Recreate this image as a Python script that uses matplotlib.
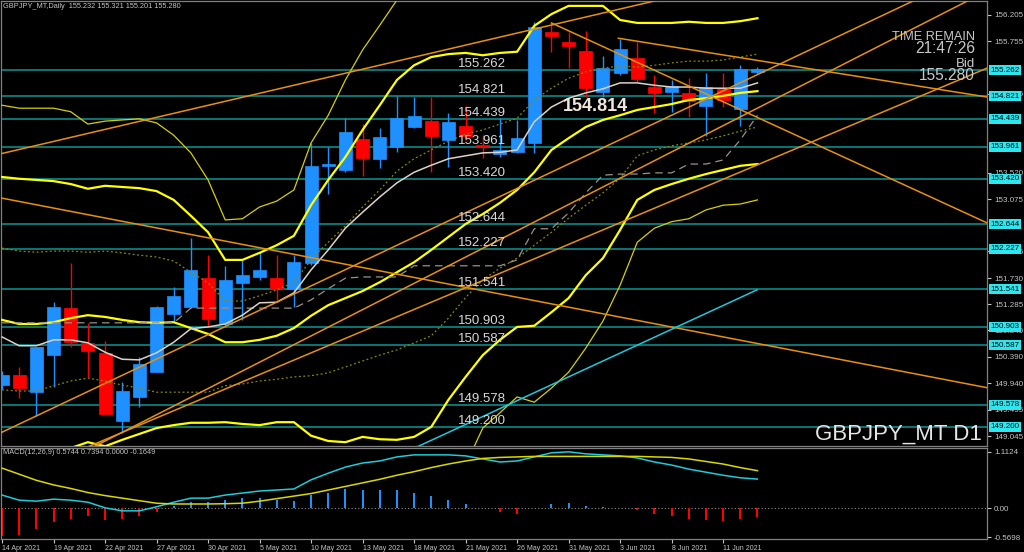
import matplotlib
matplotlib.use('Agg')
import matplotlib.pyplot as plt
from matplotlib.transforms import blended_transform_factory

plt.rcParams['font.family'] = ['Liberation Sans', 'DejaVu Sans']

# 日足ローソク (14 Apr 2021 - 15 Jun 2021)
opens = [149.91, 150.08, 149.79, 150.42, 151.22, 150.63, 150.46, 149.30, 149.71, 150.13,
         151.12, 151.24, 151.73, 150.95, 151.65, 151.75, 151.73, 151.55, 151.99, 153.64,
         153.57, 154.10, 153.76, 153.96, 154.30, 154.40, 154.08, 154.32, 154.00, 153.84,
         153.88, 154.03, 155.92, 155.75, 155.59, 154.90, 155.22, 155.47, 154.98, 154.90,
         154.88, 154.66, 154.96, 154.61, 155.232]
highs = [150.15, 150.22, 150.56, 151.32, 151.99, 150.97, 150.66, 149.96, 150.39, 151.26,
         151.58, 152.41, 152.12, 151.94, 152.06, 152.18, 152.12, 152.12, 154.03, 153.96,
         154.45, 154.35, 154.28, 154.83, 154.81, 154.81, 154.54, 154.66, 154.17, 154.45,
         154.42, 156.09, 156.07, 155.92, 155.93, 155.51, 155.80, 155.75, 155.19, 155.10,
         155.13, 155.22, 155.22, 155.36, 155.321]
lows = [149.85, 149.69, 149.39, 149.88, 150.56, 150.05, 149.42, 149.10, 149.54, 150.13,
        151.00, 151.22, 150.90, 150.90, 151.02, 151.70, 151.36, 151.24, 151.95, 153.16,
        153.53, 153.47, 153.60, 153.88, 154.28, 153.54, 153.62, 154.08, 153.77, 153.79,
        153.86, 153.86, 155.58, 155.30, 154.81, 154.81, 155.19, 155.07, 154.54, 154.56,
        154.47, 154.15, 154.64, 154.32, 155.201]
closes = [150.08, 149.86, 150.56, 151.24, 150.64, 150.49, 149.42, 149.81, 150.27, 151.24,
          151.43, 151.87, 151.04, 151.70, 151.78, 151.87, 151.55, 152.00, 153.64, 153.67,
          154.22, 153.77, 154.13, 154.45, 154.49, 154.15, 154.39, 154.15, 153.96, 153.91,
          154.11, 156.00, 155.85, 155.68, 154.96, 155.30, 155.63, 155.12, 154.88, 155.00,
          154.74, 154.98, 154.76, 155.29, 155.280]

date_pos = [0, 3, 6, 9, 12, 15, 18, 21, 24, 27, 30, 33, 36, 39, 42]
date_labels = ['14 Apr 2021', '19 Apr 2021', '22 Apr 2021', '27 Apr 2021', '30 Apr 2021',
               '5 May 2021', '10 May 2021', '13 May 2021', '18 May 2021', '21 May 2021',
               '26 May 2021', '31 May 2021', '3 Jun 2021', '8 Jun 2021', '11 Jun 2021']

# ボリンジャーバンド
bb_up3 = [154.67, 154.62, 154.62, 154.62, 154.56, 154.35, 154.40, 154.42, 154.44, 154.37,
          154.16, 153.86, 153.40, 152.72, 152.74, 152.94, 153.04, 153.23, 154.03, 154.50,
          155.10, 155.61, 156.03, 156.46, 156.89]
bb_up2 = [153.45, 153.42, 153.40, 153.38, 153.33, 153.25, 153.30, 153.28, 153.26, 153.21,
          153.06, 152.79, 152.51, 152.04, 152.04, 152.16, 152.29, 152.45, 152.97, 153.40,
          153.79, 154.25, 154.67, 155.10, 155.35, 155.49, 155.54, 155.56, 155.52, 155.56,
          155.58, 156.02, 156.22, 156.36, 156.36, 156.36, 156.12, 156.07, 156.07, 156.07,
          156.09, 156.07, 156.07, 156.10, 156.15]
bb_up1 = [152.24, 152.19, 152.17, 152.19, 152.19, 152.17, 152.19, 152.16, 152.12, 152.09,
          152.02, 151.83, 151.65, 151.34, 151.34, 151.43, 151.53, 151.66, 152.04, 152.34,
          152.62, 152.94, 153.23, 153.55, 153.76, 153.91, 154.06, 154.18, 154.25, 154.35,
          154.45, 154.76, 154.96, 155.13, 155.24, 155.30, 155.34, 155.32, 155.35, 155.39,
          155.42, 155.42, 155.44, 155.49, 155.54]
bb_mid = [151.02, 150.95, 150.95, 150.98, 151.05, 151.10, 151.07, 151.02, 150.98, 150.97,
          150.98, 150.88, 150.78, 150.64, 150.64, 150.68, 150.75, 150.88, 151.09, 151.27,
          151.39, 151.51, 151.66, 151.83, 152.00, 152.21, 152.43, 152.65, 152.82, 153.01,
          153.23, 153.53, 153.91, 154.11, 154.30, 154.42, 154.50, 154.59, 154.64, 154.69,
          154.76, 154.79, 154.83, 154.88, 154.91]
bb_dn1 = [149.83, 149.81, 149.81, 149.90, 149.98, 150.03, 149.98, 149.91, 149.86, 149.79,
          149.79, 149.79, 149.79, 149.90, 149.93, 149.98, 150.01, 150.05, 150.07, 150.12,
          150.22, 150.32, 150.42, 150.51, 150.63, 150.75, 151.05, 151.40, 151.70, 151.90,
          152.07, 152.29, 152.51, 152.75, 152.97, 153.18, 153.43, 153.81, 153.91, 153.98,
          154.03, 154.08, 154.15, 154.23, 154.30]
bb_dn2 = [148.64, 148.67, 148.72, 148.77, 148.84, 148.94, 148.87, 148.98, 149.08, 149.18,
          149.23, 149.27, 149.27, 149.28, 149.25, 149.23, 149.28, 149.28, 149.05, 148.96,
          148.94, 149.03, 148.99, 148.98, 149.03, 149.20, 149.66, 150.05, 150.42, 150.68,
          150.90, 150.92, 151.15, 151.39, 151.78, 152.07, 152.55, 153.06, 153.23, 153.33,
          153.42, 153.50, 153.57, 153.64, 153.67]
bb_dn3 = [148.14, 148.55, 149.18, 149.44, 149.71, 149.62, 149.86, 150.13, 150.54, 151.00,
          151.61, 152.34, 152.58, 152.69, 152.74, 152.89, 152.97, 152.99, 153.06]
bb_dn3_start = 26

# 移動平均 / 遅行線
ma_fast = [150.73, 150.58, 150.58, 150.68, 150.68, 150.63, 150.47, 150.35, 150.34, 150.46,
           150.64, 150.87, 150.90, 150.95, 151.10, 151.31, 151.32, 151.48, 151.87, 152.21,
           152.58, 152.85, 153.11, 153.35, 153.53, 153.65, 153.76, 153.81, 153.86, 153.87,
           153.91, 154.39, 154.64, 154.79, 154.88, 154.95, 155.05, 155.05, 155.01, 154.98,
           154.98, 154.96, 154.96, 154.96, 155.05]
kijun = [150.97, 150.97, 150.97, 150.97, 150.97, 150.97, 150.97, 150.97, 150.97, 150.97,
         150.97, 151.22, 151.22, 151.22, 151.22, 151.22, 151.22, 151.22, 151.36, 151.55,
         151.73, 151.75, 151.75, 151.75, 151.94, 151.94, 151.94, 151.94, 151.94, 151.94,
         152.04, 152.57, 152.57, 152.84, 153.18, 153.48, 153.50, 153.50, 153.52, 153.52,
         153.67, 153.67, 153.74, 154.08, 154.50]

# 水平線
levels = [155.262, 154.821, 154.439, 153.961, 153.420, 152.644,
          152.227, 151.541, 150.903, 150.587, 149.578, 149.200]
price_ticks = [156.205, 155.755, 154.865, 153.520, 153.075, 152.185,
               151.730, 151.285, 150.840, 150.390, 149.940, 149.495, 149.045]

# トレンドライン (足番号, 価格)
tl_up_a = [(0, 149.11), (50, 156.02)]
tl_up_b = [(5, 148.81), (55, 156.26)]
tl_up_c = [(5, 148.86), (55, 155.01)]
tl_top = [(0, 153.85), (40, 156.58)]
tl_down_long = [(0, 153.09), (55, 150.00)]
tl_down_a = [(35.9, 155.81), (57.37, 154.81)]
tl_down_b = [(32.0, 156.07), (57.37, 152.67)]
tl_cyan = [(24.17, 148.86), (43.97, 151.53)]

# MACD
macd_main = [0.26, 0.16, 0.14, 0.18, 0.16, 0.12, 0.01, -0.05, -0.05, 0.03,
             0.12, 0.20, 0.20, 0.26, 0.30, 0.34, 0.36, 0.38, 0.56, 0.69,
             0.81, 0.89, 0.93, 1.01, 1.05, 1.05, 1.05, 1.03, 0.97, 0.91,
             0.93, 1.01, 1.09, 1.11, 1.07, 1.05, 1.03, 0.99, 0.91, 0.85,
             0.77, 0.71, 0.65, 0.60, 0.574]
macd_signal = [0.79, 0.67, 0.55, 0.46, 0.39, 0.31, 0.25, 0.20, 0.15, 0.10,
               0.085, 0.085, 0.085, 0.09, 0.10, 0.14, 0.19, 0.24, 0.29, 0.36,
               0.43, 0.50, 0.57, 0.65, 0.72, 0.80, 0.87, 0.93, 0.98, 1.00,
               1.01, 1.02, 1.02, 1.02, 1.02, 1.02, 1.02, 1.02, 1.01, 1.00,
               0.97, 0.92, 0.87, 0.80, 0.74]
macd_hist = [-0.55, -0.53, -0.41, -0.26, -0.21, -0.16, -0.22, -0.21, -0.16, -0.07,
             0.05, 0.13, 0.13, 0.16, 0.20, 0.20, 0.16, 0.14, 0.26, 0.31,
             0.37, 0.36, 0.36, 0.36, 0.31, 0.24, 0.16, 0.08, 0.01, -0.07,
             -0.11, 0.01, 0.08, 0.10, 0.05, 0.02, 0.01, -0.03, -0.11, -0.16,
             -0.21, -0.23, -0.24, -0.21, -0.165]
macd_ticks = [1.1124, 0.0, -0.5698]
macd_tick_labels = ['1.1124', '0.00', '-0.5698']

W, H = 1024, 552
UP, DOWN = '#1e90ff', '#ff0000'
GREY = '#c4c4c4'

fig = plt.figure(figsize=(W / 100, H / 100), dpi=100, facecolor='black')
ax = fig.add_axes([1 / W, 1 - 446 / H, 986 / W, 445 / H], facecolor='black')
ax2 = fig.add_axes([1 / W, 1 - 539 / H, 986 / W, 91 / H], facecolor='black')

n = len(closes)
xs = list(range(n))
XMIN, XMAX = -0.06, 57.37

# 水平線
for lv in levels:
    ax.axhline(lv, color='#0f9696', lw=1.1, zorder=1)

# ローソク足
for i in xs:
    o, h, l, c = opens[i], highs[i], lows[i], closes[i]
    col = UP if c >= o else DOWN
    ax.vlines(i, l, h, color=col, lw=1, zorder=2)
    ax.bar(i, max(abs(c - o), 0.025), bottom=min(o, c), width=0.76,
           color=col, edgecolor=col, lw=0.5, zorder=2.2)

# インジケーター
ax.plot(xs[:len(bb_up3)], bb_up3, color='#d6d000', lw=0.9, zorder=3)
ax.plot(xs, bb_up2, color='#ffff00', lw=1.6, zorder=3)
ax.plot(xs, bb_up1, color='#8a8a00', lw=0.9, ls=(0, (1.5, 2)), zorder=3)
ax.plot(xs, bb_mid, color='#ffff00', lw=1.6, zorder=3)
ax.plot(xs, bb_dn1, color='#8a8a00', lw=0.9, ls=(0, (1.5, 2)), zorder=3)
ax.plot(xs, bb_dn2, color='#ffff00', lw=1.6, zorder=3)
ax.plot(range(bb_dn3_start, bb_dn3_start + len(bb_dn3)), bb_dn3, color='#d6d000', lw=0.9, zorder=3)
ax.plot(xs, ma_fast, color='#ddd2c8', lw=1.1, zorder=3.2)
ax.plot(xs, kijun, color='#9a928a', lw=0.9, ls=(0, (6, 4)), zorder=3.1)


def ray(pts, x_start, x_end, **kw):
    (x1, y1), (x2, y2) = pts
    k = (y2 - y1) / (x2 - x1)
    ax.plot([x_start, x_end], [y1 + k * (x_start - x1), y1 + k * (x_end - x1)], **kw)


orange = dict(color='#e8900c', lw=1.1, zorder=3.5)
ray(tl_up_a, -1, 60, **orange)
ray(tl_up_b, tl_up_b[0][0], 60, **orange)
ray(tl_up_c, tl_up_c[0][0], 60, **orange)
ray(tl_top, -1, 60, **orange)
ray(tl_down_long, -1, 60, **orange)
ray(tl_down_a, tl_down_a[0][0], 60, **orange)
ray(tl_down_b, tl_down_b[0][0], 60, **orange)
ray(tl_cyan, tl_cyan[0][0], tl_cyan[1][0], color='#1ec8dc', lw=1.1, zorder=3.5)

ax.set_xlim(XMIN, XMAX)
ax.set_ylim(148.875, 156.443)
ax.set_xticks([])
ax.yaxis.tick_right()
ax.set_yticks(price_ticks)
ax.set_yticklabels(['%.3f' % t for t in price_ticks])
ax.tick_params(axis='y', colors=GREY, labelsize=5.8, length=3, pad=2, width=0.8)

# 水平線ラベル
for lv in levels:
    ax.text(26.56, lv, '%.3f' % lv, color='#d8d8d8', fontsize=9.5, va='bottom', ha='left', zorder=6)

trans = blended_transform_factory(ax.transAxes, ax.transData)
for lv in levels:
    ax.text(1.0035, lv, '%.3f' % lv, transform=trans, fontsize=5.8, color='black',
            va='center', ha='left', clip_on=False, zorder=10,
            bbox=dict(boxstyle='square,pad=0.18', fc='#2ee6ee', ec='none'))

# MACD
ax2.bar(xs, macd_hist, width=0.12, color=[UP if v >= 0 else DOWN for v in macd_hist], zorder=2)
ax2.axhline(0, color='#909090', lw=0.8, ls=(0, (1, 2)), zorder=1)
ax2.plot(xs, macd_main, color='#1ecbd8', lw=1.1, zorder=3)
ax2.plot(xs, macd_signal, color='#d8d800', lw=1.1, zorder=3)
ax2.set_xlim(XMIN, XMAX)
ax2.set_ylim(-0.603, 1.185)
ax2.yaxis.tick_right()
ax2.set_yticks(macd_ticks)
ax2.set_yticklabels(macd_tick_labels)
ax2.set_xticks(date_pos)
ax2.set_xticklabels(date_labels, ha='left')
ax2.tick_params(axis='y', colors=GREY, labelsize=5.8, length=3, pad=2, width=0.8)
ax2.tick_params(axis='x', colors=GREY, labelsize=5.0, length=3, pad=1.5, width=0.8)

for a in (ax, ax2):
    for s in a.spines.values():
        s.set_color('#808080')
        s.set_linewidth(0.9)

# テキスト
fig.text(3 / W, 1 - 7 / H, 'GBPJPY_MT,Daily  155.232 155.321 155.201 155.280',
         fontsize=5.3, color=GREY, va='center', ha='left')
fig.text(3 / W, 1 - 453 / H, 'MACD(12,26,9) 0.5744 0.7394 0.0000 -0.1649',
         fontsize=5.3, color=GREY, va='center', ha='left')
fig.text(975 / W, 1 - 40 / H, 'TIME REMAIN', fontsize=9.2,
         color='#c8c8c8', ha='right', va='baseline')
fig.text(975 / W, 1 - 53 / H, '21:47:26', fontsize=11.2,
         color='#c8c8c8', ha='right', va='baseline')
fig.text(975 / W, 1 - 67 / H, 'Bid', fontsize=9.5,
         color='#c8c8c8', ha='right', va='baseline')
fig.text(975 / W, 1 - 80 / H, '155.280', fontsize=11.2,
         color='#c8c8c8', ha='right', va='baseline')
fig.text(982 / W, 1 - 440 / H, 'GBPJPY_MT D1', fontsize=16, color='#e6e6e6',
         ha='right', va='baseline')
fig.text(563 / W, 1 - 111 / H, '154.814', fontsize=13, fontweight='bold',
         color='#f0e6dc', ha='left', va='baseline')

fig.savefig('out.png', dpi=100, facecolor='black')
